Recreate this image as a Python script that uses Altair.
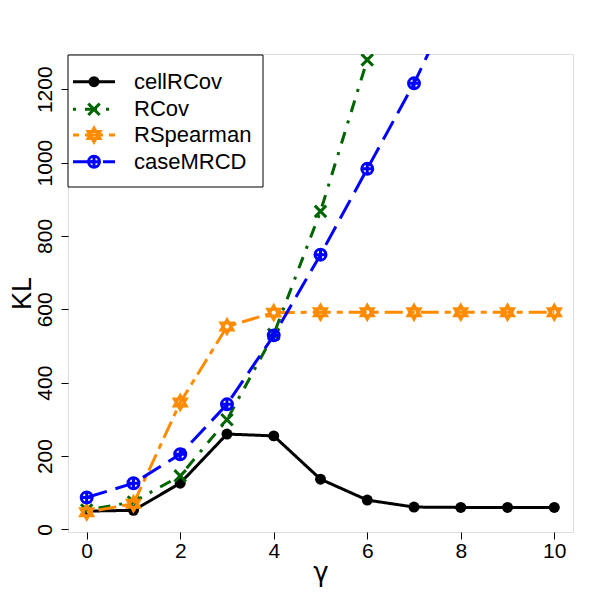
import altair as alt
import pandas as pd

gamma = [0, 1, 2, 3, 4, 5, 6, 7, 8, 9, 10]

series_names = ["cellRCov", "RCov", "RSpearman", "caseMRCD"]
cellRCov = [50, 52, 126, 260, 255, 137, 80, 61, 60, 60, 60]
RCov = [53, 75, 146, 299, 532, 867, 1280, 1700]
RSpearman = [47, 70, 346, 553, 591, 592, 592, 592, 592, 592, 592]
caseMRCD = [87, 126, 205, 341, 529, 749, 983, 1216, 1483]

x_ticks = [0, 2, 4, 6, 8, 10]
y_ticks = [0, 200, 400, 600, 800, 1000, 1200]

values = {"cellRCov": cellRCov, "RCov": RCov, "RSpearman": RSpearman, "caseMRCD": caseMRCD}
colors = {"cellRCov": "#000000", "RCov": "#006400", "RSpearman": "#FF8C00", "caseMRCD": "#0000FF"}
dashes = {"cellRCov": [1, 0], "RCov": [3, 9, 12, 9], "RSpearman": [6, 6, 18, 6], "caseMRCD": [21, 9]}
shapes = {
    "cellRCov": "circle",
    "RCov": "M-1,-1L1,1M-1,1L1,-1",
    "RSpearman": "M0,-1L0.866,0.5L-0.866,0.5ZM0,1L0.866,-0.5L-0.866,-0.5Z",
    "caseMRCD": "M1,0A1,1,0,1,1,-1,0A1,1,0,1,1,1,0ZM-1,0L1,0M0,-1L0,1",
}
sizes = {"cellRCov": 120, "RCov": 130, "RSpearman": 190, "caseMRCD": 120}
filled = {"cellRCov": True, "RCov": False, "RSpearman": False, "caseMRCD": False}

rows = []
for name in series_names:
    for g, v in zip(gamma, values[name]):
        rows.append({"series": name, "gamma": g, "KL": v})
df = pd.DataFrame(rows)
legend_df = pd.DataFrame({"series": series_names})
box_df = pd.DataFrame({"box": [0]})

FONT = "Liberation Sans"

xenc = alt.X("gamma:Q",
             scale=alt.Scale(domain=[-0.4, 10.4], nice=False, zero=False),
             axis=alt.Axis(values=x_ticks, title="γ", domain=False, grid=False,
                           tickSize=7, tickColor="black", labelFontSize=21,
                           labelFont=FONT, labelColor="black", labelPadding=1,
                           titleFontSize=26, titleFont="DejaVu Sans", titleFontWeight="normal",
                           titleColor="black", titlePadding=-2, labelFlush=False))
yenc = alt.Y("KL:Q",
             scale=alt.Scale(domain=[-7, 1296], nice=False, zero=False),
             axis=alt.Axis(values=y_ticks, format="d", title="KL", domain=False, grid=False,
                           tickSize=7, tickColor="black", labelFontSize=21,
                           labelFont=FONT, labelColor="black", labelAngle=270,
                           labelAlign="center", labelBaseline="bottom", labelPadding=6,
                           titleFontSize=27, titleFont=FONT, titleFontWeight="normal",
                           titleColor="black", titlePadding=-2, labelFlush=False))

layers = []
for name in series_names:
    base = alt.Chart(df).transform_filter(alt.datum.series == name)
    layers.append(base.mark_line(color=colors[name], strokeDash=dashes[name],
                                 strokeWidth=3, clip=True).encode(x=xenc, y=yenc))
    layers.append(base.mark_point(shape=shapes[name], filled=filled[name],
                                  color=colors[name], size=sizes[name], strokeWidth=3,
                                  opacity=1, clip=True).encode(x=xenc, y=yenc))

# legend (R style box at top-left)
leg_rows = [27.7, 55.3, 81.0, 107.7]
legend_layers = [
    alt.Chart(box_df).mark_rect(fill="white", stroke="black", strokeWidth=1).encode(
        x=alt.value(0), x2=alt.value(195), y=alt.value(1), y2=alt.value(133))
]
for name, yy in zip(series_names, leg_rows):
    one = alt.Chart(legend_df).transform_filter(alt.datum.series == name)
    legend_layers.append(one.mark_rule(color=colors[name], strokeDash=dashes[name],
                                       strokeWidth=3).encode(
        x=alt.value(5), x2=alt.value(47), y=alt.value(yy)))
    legend_layers.append(one.mark_point(shape=shapes[name], filled=filled[name],
                                        color=colors[name], size=sizes[name],
                                        strokeWidth=3, opacity=1).encode(
        x=alt.value(26), y=alt.value(yy)))
    legend_layers.append(one.mark_text(align="left", baseline="middle",
                                       font=FONT, fontSize=22, color="black").encode(
        text="series:N", x=alt.value(66), y=alt.value(yy)))

chart = alt.layer(*layers, *legend_layers).properties(
    width=505, height=478,
    autosize=alt.AutoSizeParams(type="none"),
    padding={"left": 60, "top": 46, "right": 20, "bottom": 61},
).configure_view(stroke="#333333", strokeWidth=1).configure(background="white")

chart.save("out.html", embed_options={"renderer": "svg", "actions": False})
